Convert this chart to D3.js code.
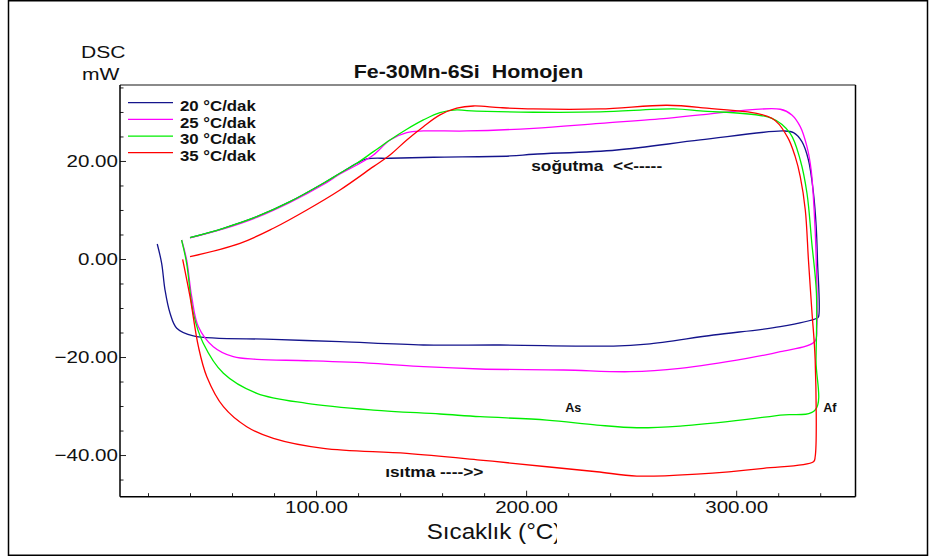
<!DOCTYPE html>
<html>
<head>
<meta charset="utf-8">
<script src="https://cdn.jsdelivr.net/npm/d3@7"></script>
<style>
  body { margin: 0; background: #fff; }
  text { font-family: "Liberation Sans", Arial, sans-serif; }
</style>
</head>
<body>
<svg id="chart" width="932" height="558"></svg>
<script>
// DSC loops: heating part (bottom, left -> right) then cooling part (top, right -> left)
const seriesNames = ['20 °C/dak', '25 °C/dak', '30 °C/dak', '35 °C/dak'];
const seriesColors = ['#14148c', '#ff00ff', '#00ee00', '#ff0000'];

const temp20 = [24.4, 26.5, 28.1, 30.5, 33.7, 41.6, 79.7, 111.4, 151.1, 187.6, 241.6, 257.5, 289.2, 321.0, 338.4,
  339.2, 338.7, 338.1, 336.8, 334.4, 331.3, 327.3, 322.5, 282.9, 243.2, 203.5, 192.4, 155.9, 135.2, 124.1, 119.4, 111.4, 103.5, 87.6, 71.8, 55.9, 40.0];
const dsc20 = [3.06, -0.88, -6.33, -11.08, -14.14, -15.71, -16.39, -16.88, -17.55, -17.55, -17.76, -17.35, -15.51, -13.82, -12.10,
  -11.78, -0.2, 6.59, 13.41, 20.2, 23.94, 25.78, 26.12, 24.29, 22.24, 21.37, 21.02, 20.76, 20.55, 20.41, 19.53, 17.49, 15.45, 11.69, 8.63, 6.27, 4.35];

const temp25 = [36.0, 38.4, 40.8, 44.0, 51.1, 60.6, 71.8, 95.6, 127.3, 151.1, 178.1, 217.8, 249.5, 273.3, 305.1, 321.0, 337.3,
  338.4, 338.1, 337.1, 335.7, 333.7, 330.5, 326.5, 321.0, 282.9, 267.0, 235.2, 203.5, 171.8, 151.1, 143.2, 135.2, 127.3, 119.4, 111.4, 103.5, 87.6, 71.8, 55.9, 40.0];
const dsc25 = [3.88, -0.20, -7.69, -13.82, -17.90, -19.94, -20.47, -20.76, -21.29, -21.98, -22.45, -22.65, -23.0, -22.31, -20.27, -18.9, -16.88,
  -13.82, -0.2, 10.0, 18.16, 22.92, 27.0, 29.39, 30.55, 29.39, 28.71, 27.69, 26.67, 26.12, 26.12, 25.78, 24.29, 21.22, 19.18, 17.35, 15.2, 11.53, 8.47, 6.12, 4.29];

const temp30 = [36.0, 38.4, 41.6, 46.3, 55.9, 71.8, 95.6, 127.3, 159.0, 178.1, 209.9, 233.7, 252.7, 273.3, 305.1, 321.0, 337.6,
  338.0, 338.2, 336.0, 333.7, 330.5, 325.7, 317.0, 282.9, 270.1, 235.2, 203.5, 171.8, 167.0, 159.0, 151.1, 143.2, 135.2, 127.3, 119.4, 111.4, 103.5, 87.6, 71.8, 55.9, 40.0];
const dsc30 = [3.88, -0.88, -11.08, -17.2, -23.33, -27.41, -29.45, -30.82, -31.63, -32.18, -32.86, -33.88, -34.43, -34.08, -32.71, -31.84, -30.82,
  -20.61, -6.94, 3.27, 13.41, 20.2, 25.65, 28.71, 30.2, 30.61, 30.0, 29.94, 30.27, 30.41, 29.86, 28.37, 26.47, 24.29, 21.9, 19.53, 17.49, 15.45, 11.69, 8.63, 6.27, 4.35];

const temp35 = [36.5, 40.0, 44.0, 48.0, 55.9, 67.0, 79.7, 103.5, 143.2, 178.1, 209.9, 233.7, 252.7, 281.3, 313.0, 336.8, 337.6,
  337.6, 336.0, 334.4, 332.9, 330.5, 328.1, 324.3, 317.0, 282.9, 267.0, 235.2, 203.3, 187.6, 174.9, 167.0, 159.0, 151.1, 143.2, 135.2, 127.3, 111.4, 95.6, 79.7, 63.8, 40.0];
const dsc35 = [-0.06, -7.69, -17.9, -24.02, -30.14, -34.22, -36.59, -38.63, -39.65, -41.02, -42.39, -43.41, -44.29, -43.88, -42.71, -41.37, -40.35,
  -20.61, -10.41, -0.2, 10.0, 16.8, 20.88, 24.96, 28.71, 30.88, 31.37, 30.61, 30.61, 30.88, 31.22, 30.76, 29.39, 27.0, 24.29, 21.22, 18.84, 14.08, 10.0, 6.27, 3.2, 0.47];

const xMajorTicks = [100, 200, 300];
const xMinorTicks = [20, 40, 60, 80, 120, 140, 160, 180, 220, 240, 260, 280, 320, 340];
const yMajorTicks = [-40, -20, 0, 20];
const yMinorTicks = [-45, -35, -30, -25, -15, -10, -5, 5, 10, 15, 25, 30, 35];

// text notes placed in data units
const notes = [
  { text: 'soğutma  <<-----', t: 202.4, v: 17.96, size: 14, k: 1.24 },
  { text: 'ısıtma ---->>', t: 132.9, v: -44.5, size: 14, k: 1.24 },
  { text: 'As', t: 218.6, v: -31.2, size: 12, k: 1.05 },
  { text: 'Af', t: 341.4, v: -31.2, size: 12, k: 1.05 }
];

const series = [
  { name: seriesNames[0], color: seriesColors[0], t: temp20, v: dsc20 },
  { name: seriesNames[1], color: seriesColors[1], t: temp25, v: dsc25 },
  { name: seriesNames[2], color: seriesColors[2], t: temp30, v: dsc30 },
  { name: seriesNames[3], color: seriesColors[3], t: temp35, v: dsc35 }
];

const svg = d3.select('#chart');
const plotLeft = 120, plotRight = 855.5, plotTop = 85, plotBottom = 496.7;

const x = d3.scaleLinear().domain([6.67, 356.8]).range([plotLeft, plotRight]);
const y = d3.scaleLinear().domain([-48.5, 35.5]).range([plotBottom, plotTop]);

// wide glyphs of the original: stretch text horizontally around its anchor
function stretch(sel, k) {
  sel.each(function () {
    const t = d3.select(this);
    const tx = +t.attr('x') || 0, ty = +t.attr('y') || 0;
    t.attr('x', null).attr('y', null)
      .attr('transform', 'translate(' + tx + ',' + ty + ') scale(' + k + ',1)');
  });
}

// outer border
svg.append('rect')
  .attr('x', 8.5).attr('y', 0.75).attr('width', 919).attr('height', 554.5)
  .attr('fill', 'none').attr('stroke', '#000').attr('stroke-width', 1.5);

// axes
const fontFam = '"Liberation Sans", Arial, sans-serif';

const xMinor = svg.append('g').attr('transform', 'translate(0,' + plotBottom + ')')
  .call(d3.axisBottom(x).tickValues(xMinorTicks).tickSize(-3.5).tickFormat(''));
const xMajor = svg.append('g').attr('transform', 'translate(0,' + plotBottom + ')')
  .call(d3.axisBottom(x).tickValues(xMajorTicks).tickSize(-6).tickPadding(4).tickFormat(d3.format('.2f')));
const yMinor = svg.append('g').attr('transform', 'translate(' + plotLeft + ',0)')
  .call(d3.axisLeft(y).tickValues(yMinorTicks).tickSize(-3.5).tickFormat(''));
const yMajor = svg.append('g').attr('transform', 'translate(' + plotLeft + ',0)')
  .call(d3.axisLeft(y).tickValues(yMajorTicks).tickSize(-6).tickPadding(2).tickFormat(d3.format('.2f')));

[xMinor, xMajor, yMinor, yMajor].forEach(g => {
  g.select('.domain').remove();
  g.attr('font-family', fontFam).attr('font-size', 17);
  g.selectAll('line').attr('stroke', '#222').attr('stroke-width', 1);
  g.selectAll('text').attr('fill', '#111');
});
stretch(xMajor.selectAll('text'), 1.21);
stretch(yMajor.selectAll('text'), 1.21);

// curves
const line = d3.line()
  .x(d => x(d[0]))
  .y(d => y(d[1]))
  .curve(d3.curveCatmullRom.alpha(0.5));

svg.append('g').selectAll('path')
  .data(series)
  .enter()
  .append('path')
  .attr('d', s => line(s.t.map((t, i) => [t, s.v[i]])))
  .attr('fill', 'none')
  .attr('stroke', s => s.color)
  .attr('stroke-width', 1.3)
  .attr('stroke-linejoin', 'round');

// frame
svg.append('line').attr('x1', plotLeft).attr('x2', plotRight).attr('y1', plotTop).attr('y2', plotTop)
  .attr('stroke', '#8a8a8a').attr('stroke-width', 2);
svg.append('line').attr('x1', plotRight).attr('x2', plotRight).attr('y1', plotTop).attr('y2', plotBottom)
  .attr('stroke', '#000').attr('stroke-width', 1.5);
svg.append('line').attr('x1', plotLeft).attr('x2', plotRight).attr('y1', plotBottom).attr('y2', plotBottom)
  .attr('stroke', '#000').attr('stroke-width', 1.5);
svg.append('line').attr('x1', plotLeft).attr('x2', plotLeft).attr('y1', plotTop).attr('y2', plotBottom)
  .attr('stroke', '#000').attr('stroke-width', 1.5);

// legend
const legend = svg.append('g').selectAll('g')
  .data(series)
  .enter()
  .append('g')
  .attr('transform', (d, i) => 'translate(0,' + (102.7 + i * 16.67) + ')');
legend.append('line')
  .attr('x1', 128).attr('x2', 173)
  .attr('stroke', d => d.color).attr('stroke-width', 1.3);
legend.append('text')
  .attr('x', 180).attr('y', 8.3)
  .attr('font-size', 14).attr('font-weight', 'bold').attr('fill', '#111')
  .text(d => d.name);
stretch(legend.selectAll('text'), 1.2);

// title and axis titles
const title = svg.append('text')
  .attr('x', 468.5).attr('y', 78)
  .attr('text-anchor', 'middle')
  .attr('font-size', 18).attr('font-weight', 'bold').attr('fill', '#111')
  .style('white-space', 'pre')
  .text('Fe-30Mn-6Si  Homojen');
stretch(title, 1.19);

const yTitle = svg.append('g');
yTitle.append('text').attr('x', 81).attr('y', 58.3).text('DSC');
yTitle.append('text').attr('x', 82).attr('y', 80).text('mW');
yTitle.selectAll('text').attr('font-size', 17).attr('fill', '#111');
stretch(yTitle.selectAll('text'), 1.24);

// the x title is cut just after "(°C" in the original
svg.append('clipPath').attr('id', 'xlab-clip')
  .append('rect').attr('x', 400).attr('y', 510).attr('width', 157).attr('height', 44);
const xTitle = svg.append('g').attr('clip-path', 'url(#xlab-clip)')
  .append('text')
  .attr('x', 426.7).attr('y', 539.3)
  .attr('font-size', 22).attr('fill', '#111')
  .text('Sıcaklık (°C)');
stretch(xTitle, 1.1);

// notes
notes.forEach(n => {
  const t = svg.append('text')
    .attr('x', x(n.t)).attr('y', y(n.v))
    .attr('font-size', n.size).attr('font-weight', 'bold').attr('fill', '#111')
    .style('white-space', 'pre')
    .text(n.text);
  stretch(t, n.k);
});
</script>
</body>
</html>
